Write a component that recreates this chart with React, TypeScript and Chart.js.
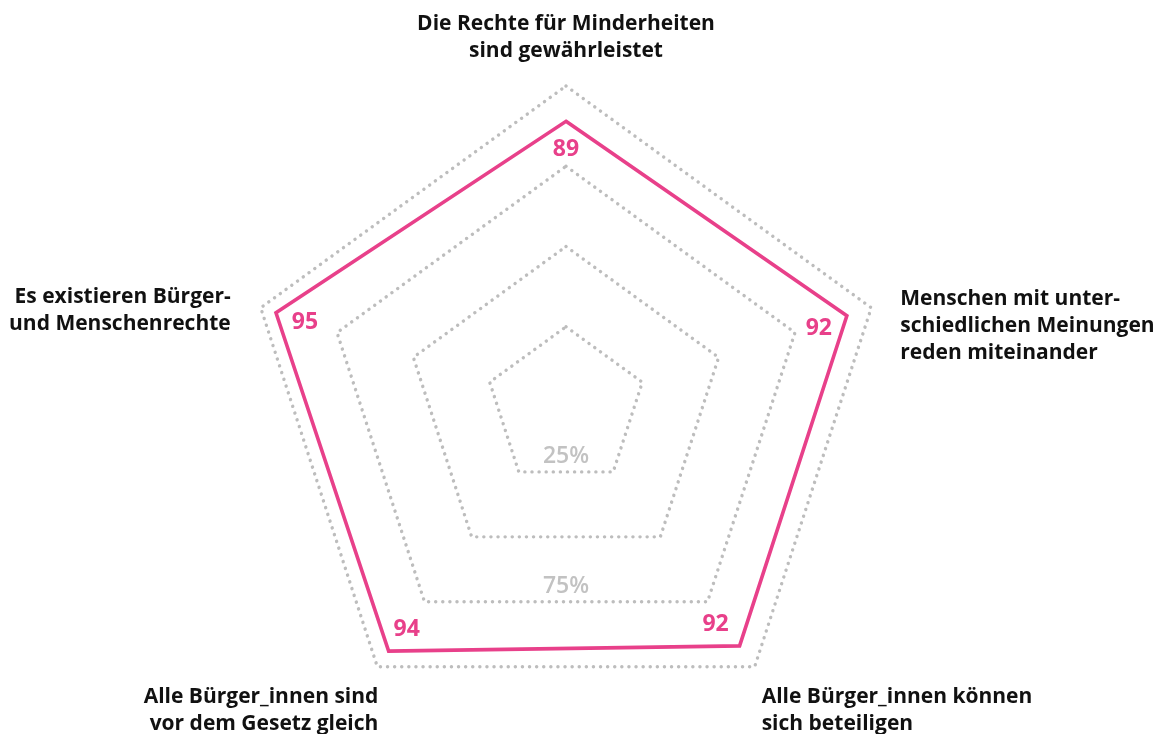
import React, { useEffect, useRef } from "react";
import { Chart, registerables } from "chart.js";

Chart.register(...registerables);

// ---- data ----
const categories: string[][] = [
  ["Die Rechte für Minderheiten", "sind gewährleistet"],
  ["Menschen mit unter-", "schiedlichen Meinungen", "reden miteinander"],
  ["Alle Bürger_innen können", "sich beteiligen"],
  ["Alle Bürger_innen sind", "vor dem Gesetz gleich"],
  ["Es existieren Bürger-", "und Menschenrechte"],
];
const values: number[] = [89, 92, 92, 94, 95];
const scaleMin = 0;
const scaleMax = 100;
const scaleStep = 25;
const tickLabelValues: number[] = [25, 75];
const tickLabels: string[] = ["25%", "75%"];

// ---- styles ----
const PINK = "#e8408a";
const GRID = "#bdbdbd";
const TICK_TEXT = "#c2c2c2";
const FONT = '"Open Sans", "DejaVu Sans", sans-serif';

// category label placement relative to the outer ring vertex
const catLayout = [
  { align: "center", dx: 0, dy: -56 },
  { align: "left", dx: 29, dy: -3 },
  { align: "left", dx: 7, dy: 36 },
  { align: "right", dx: 1, dy: 36 },
  { align: "right", dx: -30, dy: -5 },
];
const CAT_LINE = 27;
// value label offsets relative to data vertex
const valLayout = [
  [0, 28],
  [-28, 13],
  [-24, -21],
  [18, -22],
  [29, 10],
];

const dotCapPlugin = {
  id: "dotCap",
  beforeDraw(chart: any) {
    chart.ctx.lineCap = "round";
  },
  afterDraw(chart: any) {
    chart.ctx.lineCap = "butt";
  },
};

const labelsPlugin = {
  id: "customLabels",
  afterDraw(chart: any) {
    const ctx = chart.ctx;
    const scale = chart.scales.r;
    ctx.save();
    // tick labels at the bottom edge of the rings
    ctx.font = `600 23px ${FONT}`;
    ctx.fillStyle = TICK_TEXT;
    ctx.textAlign = "center";
    ctx.textBaseline = "alphabetic";
    tickLabelValues.forEach((v, i) => {
      const p = scale.getPointPositionForValue(2, v);
      ctx.fillText(tickLabels[i], scale.xCenter, p.y - 9);
    });
    // category labels
    ctx.font = `700 21px ${FONT}`;
    ctx.fillStyle = "#111111";
    categories.forEach((lines, i) => {
      const p = scale.getPointPosition(i, scale.drawingArea);
      const lay = catLayout[i];
      ctx.textAlign = lay.align;
      const first = p.y + lay.dy;
      lines.forEach((line, k) => {
        ctx.fillText(line, p.x + lay.dx, first + k * CAT_LINE);
      });
    });
    // value labels
    ctx.font = `700 23px ${FONT}`;
    ctx.fillStyle = PINK;
    ctx.textAlign = "center";
    ctx.textBaseline = "middle";
    values.forEach((v, i) => {
      const p = scale.getPointPositionForValue(i, v);
      ctx.fillText(String(v), p.x + valLayout[i][0], p.y + valLayout[i][1]);
    });
    ctx.restore();
  },
};

export default function App() {
  const ref = useRef<HTMLCanvasElement>(null);
  useEffect(() => {
    const canvas = ref.current!;
    const chart = new Chart(canvas, {
      type: "radar",
      data: {
        labels: categories.map((c) => c.join(" ")),
        datasets: [
          {
            data: values,
            borderColor: PINK,
            borderWidth: 3.6,
            backgroundColor: "transparent",
            fill: false,
            pointRadius: 0,
            pointHoverRadius: 0,
            borderJoinStyle: "miter",
          },
        ],
      },
      options: {
        responsive: false,
        animation: false,
        devicePixelRatio: 1,
        layout: { padding: { top: 86, bottom: 6, left: 200, right: 228 } },
        plugins: { legend: { display: false }, tooltip: { enabled: false } },
        scales: {
          r: {
            min: scaleMin,
            max: scaleMax,
            ticks: { display: false, stepSize: scaleStep },
            grid: { color: GRID, lineWidth: 3.4 },
            border: { dash: [0.1, 7], dashOffset: 0 },
            angleLines: { display: false },
            pointLabels: { display: false },
          },
        },
      },
      plugins: [dotCapPlugin, labelsPlugin],
    } as any);
    return () => chart.destroy();
  }, []);
  return (
    <div style={{ position: "absolute", left: 0, top: 0, width: 1160, height: 734, background: "#fff" }}>
      <canvas ref={ref} width={1160} height={734} style={{ display: "block" }} />
    </div>
  );
}
